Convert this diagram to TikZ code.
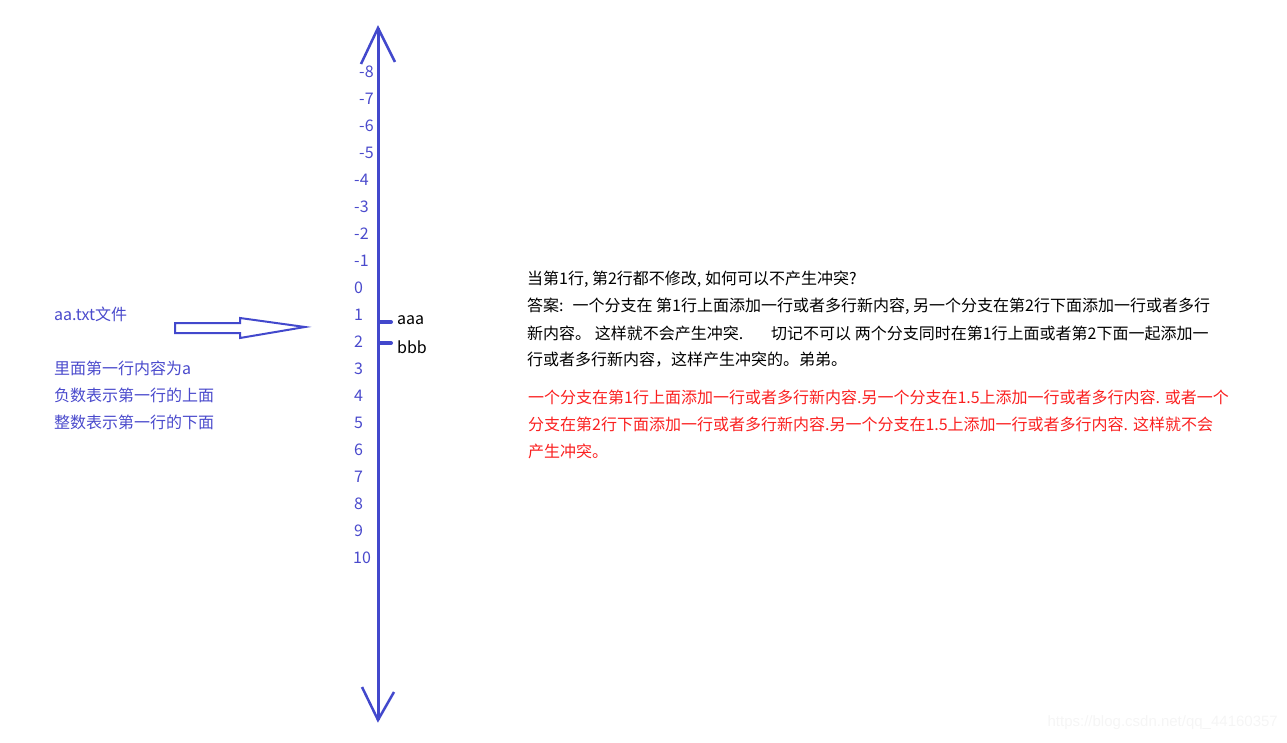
\documentclass[tikz,border=0pt]{standalone}
\usepackage{fontspec}
\setmainfont{Noto Sans CJK SC}
\newfontfamily\markfont{Liberation Sans}
\usepackage{tikz}

\definecolor{axisblue}{RGB}{66,72,204}
\definecolor{noteblue}{RGB}{74,74,204}
\definecolor{notered}{RGB}{250,32,32}

\tikzset{
	txt/.style={inner sep=0pt, anchor=west, font=\fontsize{16}{19}\selectfont},
	num/.style={txt, text=noteblue},
	bar/.style={axisblue, line width=4pt, line cap=round},
}

\begin{document}
\begin{tikzpicture}[x=1pt,y=-1pt]
	\useasboundingbox (0,0) rectangle (1287,743);

	% axis
	\coordinate (top) at (378,28);
	\coordinate (topl) at (361,64);
	\coordinate (topr) at (395,62);
	\coordinate (bot) at (378,720);
	\coordinate (botl) at (362,687);
	\coordinate (botr) at (394,692);
	\draw[axisblue, line width=3pt] (bot) -- (top);
	\draw[axisblue, line width=2.5pt] (topl) -- (top) -- (topr);
	\draw[axisblue, line width=2.5pt] (botl) -- (bot) -- (botr);

	% line numbers
	\foreach \n/\x in {-8/359,-7/359,-6/359,-5/359,-4/354,-3/354,-2/354,-1/354,
		0/354,1/354,2/354,3/354,4/354,5/354,6/354,7/354,8/354,9/354,10/353}
		\node[num] (n\n) at (\x,{72+27*(\n+8)}) {\n};

	% the two lines
	\coordinate (m1) at (379,322);
	\coordinate (m1e) at (391,322);
	\coordinate (m2) at (379,343);
	\coordinate (m2e) at (391,343);
	\draw[bar] (m1) -- (m1e);
	\draw[bar] (m2) -- (m2e);
	\node[txt] (aaa) at (397,320) {aaa};
	\node[txt] (bbb) at (397,347) {bbb};

	% file notes
	\node[txt, text=noteblue] (file) at (54,314) {aa.txt文件};
	\node[txt, text=noteblue] (l1) at (54,368) {里面第一行内容为a};
	\node[txt, text=noteblue] (l2) at (54,395) {负数表示第一行的上面};
	\node[txt, text=noteblue] (l3) at (54,422) {整数表示第一行的下面};

	% hollow arrow
	\draw[axisblue, line width=2pt] (175,323) -- (240,323) -- (240,318) -- (305,327)
		-- (240,338) -- (240,333) -- (175,333) -- cycle;

	% question
	\node[txt] (q1) at (527,279) {当第1行, 第2行都不修改, 如何可以不产生冲突?};
	\node[txt] (q2) at (527,306) {答案:\hspace*{9pt}一个分支在 第1行上面添加一行或者多行新内容, 另一个分支在第2行下面添加一行或者多行};
	\node[txt] (q3) at (527,333) {新内容。 这样就不会产生冲突.\hspace*{28pt}切记不可以 两个分支同时在第1行上面或者第2下面一起添加一};
	\node[txt] (q4) at (527,360) {行或者多行新内容，这样产生冲突的。弟弟。};

	% answer
	\node[txt, text=notered] (r1) at (528,397) {一个分支在第1行上面添加一行或者多行新内容.另一个分支在1.5上添加一行或者多行内容. 或者一个};
	\node[txt, text=notered] (r2) at (528,424) {分支在第2行下面添加一行或者多行新内容.另一个分支在1.5上添加一行或者多行内容.\hspace*{5pt}这样就不会};
	\node[txt, text=notered] (r3) at (528,451) {产生冲突。};

	\node[inner sep=0pt, anchor=east, text=black!4, font=\markfont\fontsize{15}{18}\selectfont] (wm) at (1278,723) {https://blog.csdn.net/qq\_44160357};
\end{tikzpicture}
\end{document}
